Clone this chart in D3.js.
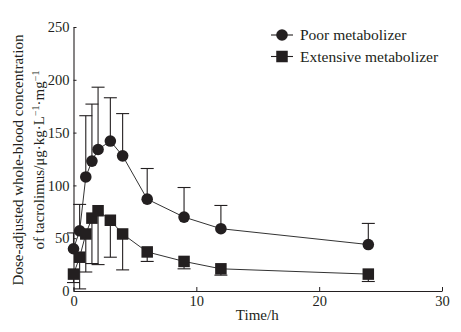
<!DOCTYPE html>
<html>
<head>
<meta charset="utf-8">
<script src="https://cdn.jsdelivr.net/npm/d3@7"></script>
<style>
  body { margin: 0; background: #fff; }
  svg { display: block; font-family: "Liberation Serif", "Times New Roman", serif; }
</style>
</head>
<body>
<div id="chart"></div>
<script>
// sampling times (h)
var times = [0, 0.5, 1, 1.5, 2, 3, 4, 6, 9, 12, 24];
// poor metabolizer: mean and upper end of error bar
var poorMean  = [40, 57, 108, 123, 134, 142, 128, 87, 70, 59, 44];
var poorUpper = [55, 82, 166, 177, 193, 183, 168, 116, 98, 81, 64];
// extensive metabolizer: mean and lower end of error bar
var extMean  = [16, 32, 54, 69, 76, 67, 54, 37, 28, 21, 16];
var extLower = [8, 2, 18, 26, 25, 32, 20, 28, 21, 15, 9];

var xTicks = [0, 10, 20, 30];
var yTicks = [0, 50, 100, 150, 200, 250];
var seriesNames = ["Poor metabolizer", "Extensive metabolizer"];

(function(){
    var W = 461, H = 332,
        ink = "#231f20";

    var svg = d3.select("#chart").append("svg")
        .attr("width", W)
        .attr("height", H);

    var x = d3.scaleLinear().domain([0, 30]).range([73.5, 442]);
    var y = d3.scaleLinear().domain([0, 250]).range([291, 27]);

    // axes
    var gx = svg.append("g")
        .attr("transform", "translate(0," + y(0) + ")")
        .call(d3.axisBottom(x).tickValues(xTicks).tickSizeInner(-4).tickSizeOuter(0).tickPadding(5));
    var gy = svg.append("g")
        .attr("transform", "translate(" + x(0) + ",0)")
        .call(d3.axisLeft(y).tickValues(yTicks).tickSizeInner(-3).tickSizeOuter(0).tickPadding(4));

    [gx, gy].forEach(function(g) {
        g.select(".domain").attr("stroke", ink).attr("stroke-width", 1.1);
        g.selectAll(".tick line").attr("stroke", ink).attr("stroke-width", 1);
        g.selectAll(".tick text")
            .attr("fill", ink)
            .style("font-size", "14.5px")
            .style("font-family", "'Liberation Serif', 'Times New Roman', serif");
    });

    // axis titles
    svg.append("text")
        .attr("x", x(15) - 0.5)
        .attr("y", 320)
        .attr("text-anchor", "middle")
        .attr("fill", ink)
        .style("font-size", "15px")
        .text("Time/h");

    var yt = svg.append("text")
        .attr("transform", "translate(23,160) rotate(-90)")
        .attr("text-anchor", "middle")
        .attr("fill", ink)
        .style("font-size", "15px");
    yt.append("tspan").attr("x", 0).attr("y", 0)
        .text("Dose-adjusted whole-blood concentration");
    var l2 = yt.append("tspan").attr("x", 0).attr("y", 21);
    l2.append("tspan").text("of tacrolimus/\u03bcg\u00b7kg\u00b7L");
    l2.append("tspan").attr("dy", -5).style("font-size", "10px").text("\u22121");
    l2.append("tspan").attr("dy", 5).text("\u00b7mg");
    l2.append("tspan").attr("dy", -5).style("font-size", "10px").text("\u22121");

    var poor = times.map(function(t, i) { return { t: t, v: poorMean[i], e: poorUpper[i] }; });
    var ext  = times.map(function(t, i) { return { t: t, v: extMean[i],  e: extLower[i] }; });

    var line = d3.line()
        .x(function(d) { return x(d.t); })
        .y(function(d) { return y(d.v); });

    [poor, ext].forEach(function(data) {
        svg.append("path")
            .datum(data)
            .attr("d", line)
            .attr("fill", "none")
            .attr("stroke", "#333")
            .attr("stroke-width", 1);

        // error bars (one-sided)
        var eb = svg.append("g").attr("stroke", ink).attr("stroke-width", 1.1);
        eb.selectAll("line.v").data(data).enter().append("line")
            .attr("x1", function(d) { return x(d.t); })
            .attr("x2", function(d) { return x(d.t); })
            .attr("y1", function(d) { return y(d.v); })
            .attr("y2", function(d) { return y(d.e); });
        eb.selectAll("line.c").data(data).enter().append("line")
            .attr("x1", function(d) { return x(d.t) - 6.5; })
            .attr("x2", function(d) { return x(d.t) + 6.5; })
            .attr("y1", function(d) { return y(d.e); })
            .attr("y2", function(d) { return y(d.e); });
    });

    svg.selectAll("circle.poor").data(poor).enter().append("circle")
        .attr("cx", function(d) { return x(d.t); })
        .attr("cy", function(d) { return y(d.v); })
        .attr("r", 5.8)
        .attr("fill", ink);

    var s = 11.5;
    svg.selectAll("rect.ext").data(ext).enter().append("rect")
        .attr("x", function(d) { return x(d.t) - s / 2; })
        .attr("y", function(d) { return y(d.v) - s / 2; })
        .attr("width", s)
        .attr("height", s)
        .attr("fill", ink);

    // legend
    var lg = svg.append("g");
    seriesNames.forEach(function(name, i) {
        var ly = 35 + i * 21.5;
        lg.append("line")
            .attr("x1", 271).attr("x2", 293)
            .attr("y1", ly).attr("y2", ly)
            .attr("stroke", ink).attr("stroke-width", 1.1);
        if (i === 0) {
            lg.append("circle").attr("cx", 282).attr("cy", ly).attr("r", 5.8).attr("fill", ink);
        } else {
            lg.append("rect").attr("x", 282 - s / 2).attr("y", ly - s / 2)
                .attr("width", s).attr("height", s).attr("fill", ink);
        }
        lg.append("text")
            .attr("x", 300)
            .attr("y", ly)
            .attr("dy", "0.35em")
            .attr("fill", ink)
            .style("font-size", "15.5px")
            .text(name);
    });
})();
</script>
</body>
</html>
